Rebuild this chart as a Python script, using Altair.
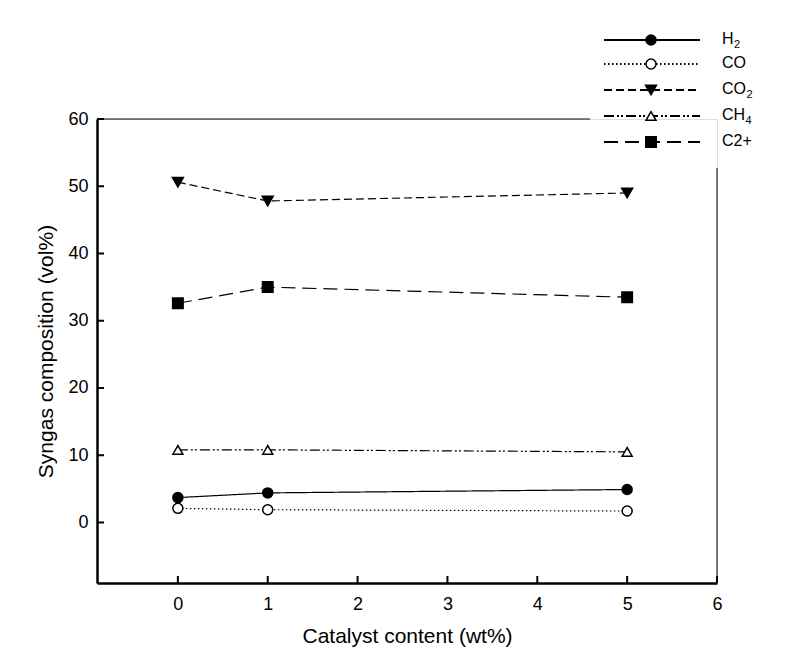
import altair as alt
import pandas as pd

# ---- data ----
catalyst = [0, 1, 5]
series_names = ["H₂", "CO", "CO₂", "CH₄", "C2+"]
h2 = [3.7, 4.4, 4.9]
co = [2.1, 1.9, 1.7]
co2 = [50.6, 47.8, 49.0]
ch4 = [10.8, 10.8, 10.5]
c2p = [32.6, 35.0, 33.5]
values = [h2, co, co2, ch4, c2p]
x_ticks = [0, 1, 2, 3, 4, 5, 6]
y_ticks = [0, 10, 20, 30, 40, 50, 60]

# ---- styles ----
dashes = [[1, 0], [1.5, 2.5], [8, 4], [10, 3, 2, 2, 2, 3], [14, 7]]
shapes = ["circle", "circle", "triangle-down", "triangle-up", "square"]
fills = ["black", "white", "black", "white", "black"]
sizes = [100, 100, 120, 100, 110]
legend_rows = [40, 64, 90, 116, 142]

W, H = 620, 464
L, T = 97, 119
FONT = "Liberation Sans"
LEG_FS = 16
SUB_FS = 11
GLYPH_W = {"H": 0.722, "C": 0.722, "O": 0.778, "2": 0.556, "+": 0.584}
SUBS = {"₂": "2", "₄": "4"}

xs = alt.Scale(domain=[-0.9, 6], nice=False, zero=False)
ys = alt.Scale(domain=[-9, 60], nice=False, zero=False)

x_axis = alt.Axis(
    title="Catalyst content (wt%)", values=x_ticks, ticks=False, grid=False,
    domainColor="black", domainWidth=2.5, labelFont=FONT, labelFontSize=18,
    labelColor="black", labelPadding=12, labelFlush=False, titleFont=FONT,
    titleFontSize=21, titleFontWeight="normal", titleColor="black", titlePadding=12)
y_axis = alt.Axis(
    title="Syngas composition (vol%)", values=y_ticks, ticks=False, grid=False,
    domainColor="black", domainWidth=2.5, labelFont=FONT, labelFontSize=18,
    labelColor="black", labelPadding=9, labelFlush=False, titleFont=FONT,
    titleFontSize=21, titleFontWeight="normal", titleColor="black", titlePadding=11)


def X(field):
    return alt.X(field, type="quantitative", scale=xs, axis=x_axis)


def Y(field):
    return alt.Y(field, type="quantitative", scale=ys, axis=y_axis)


rows = []
for name, vals in zip(series_names, values):
    for c, v in zip(catalyst, vals):
        rows.append({"series": name, "catalyst": c, "value": v})
df = pd.DataFrame(rows)

layers = []

# inward ticks
xt = pd.DataFrame({"catalyst": x_ticks})
yt = pd.DataFrame({"value": y_ticks})
layers.append(alt.Chart(xt).mark_rule(color="black", strokeWidth=2).encode(
    x=X("catalyst"), y=alt.value(H), y2=alt.value(H - 7)))
layers.append(alt.Chart(yt).mark_rule(color="black", strokeWidth=2).encode(
    y=Y("value"), x=alt.value(0), x2=alt.value(7)))

# top and right frame lines
one = pd.DataFrame({"a": [0]})
layers.append(alt.Chart(one).mark_rule(color="black", strokeWidth=1).encode(
    x=alt.value(0), x2=alt.value(493), y=alt.value(0)))
layers.append(alt.Chart(one).mark_rule(color="black", strokeWidth=1).encode(
    x=alt.value(W), y=alt.value(49), y2=alt.value(H)))

# series
for i, name in enumerate(series_names):
    sdf = df[df["series"] == name]
    layers.append(alt.Chart(sdf).mark_line(
        color="black", strokeWidth=1.2, strokeDash=dashes[i]).encode(
        x=X("catalyst"), y=Y("value")))
    layers.append(alt.Chart(sdf).mark_point(
        shape=shapes[i], filled=True, fill=fills[i], stroke="black",
        strokeWidth=1.5, size=sizes[i], opacity=1).encode(
        x=X("catalyst"), y=Y("value")))

# legend
for i, name in enumerate(series_names):
    yy = legend_rows[i] - T
    main = "".join(ch for ch in name if ch not in SUBS)
    sub = "".join(SUBS[ch] for ch in name if ch in SUBS)
    ld = pd.DataFrame({"label": [main], "sub": [sub]})
    layers.append(alt.Chart(ld).mark_rule(
        color="black", strokeWidth=2, strokeDash=dashes[i]).encode(
        x=alt.value(507), x2=alt.value(603), y=alt.value(yy)))
    layers.append(alt.Chart(ld).mark_point(
        shape=shapes[i], filled=True, fill=fills[i], stroke="black",
        strokeWidth=1.5, size=sizes[i], opacity=1).encode(
        x=alt.value(554), y=alt.value(yy)))
    layers.append(alt.Chart(ld).mark_text(
        align="left", baseline="middle", font=FONT, fontSize=LEG_FS, color="black").encode(
        x=alt.value(625), y=alt.value(yy - 1), text="label:N"))
    if sub:
        wmain = sum(GLYPH_W.get(ch, 0.6) for ch in main) * LEG_FS
        layers.append(alt.Chart(ld).mark_text(
            align="left", baseline="middle", font=FONT, fontSize=SUB_FS, color="black").encode(
            x=alt.value(625 + wmain + 0.5), y=alt.value(yy + 5), text="sub:N"))

chart = alt.layer(*layers).properties(
    width=W, height=H,
    autosize=alt.AutoSizeParams(type="none"),
    padding={"left": L, "top": T, "right": 797 - L - W, "bottom": 663 - T - H},
).configure_view(stroke=None).configure(background="white")

chart.save("out.html", embed_options={"renderer": "svg", "actions": False})
